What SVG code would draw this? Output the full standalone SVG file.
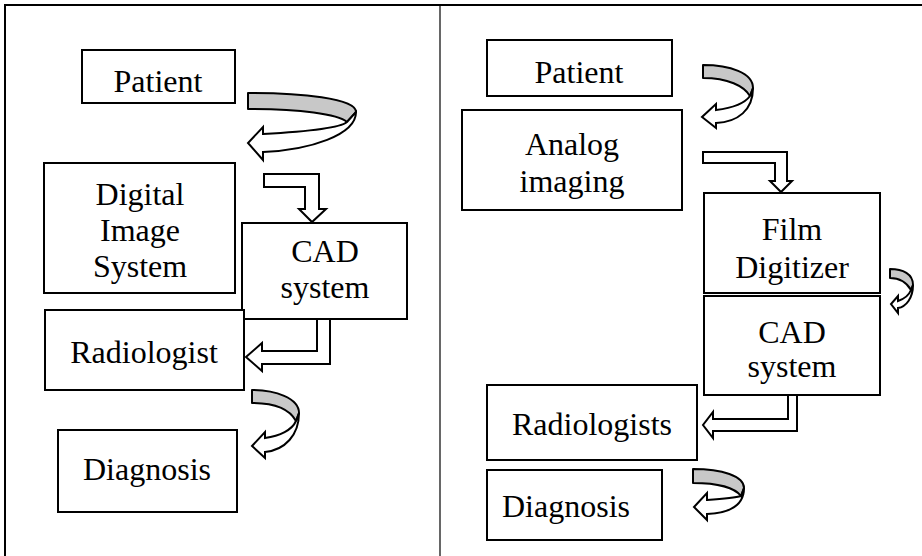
<svg xmlns="http://www.w3.org/2000/svg" width="922" height="556" viewBox="0 0 922 556">
<style>
.box{fill:#fff;stroke:#000;stroke-width:2}
.t{font-family:"Liberation Serif","Times New Roman",serif;font-size:32px;fill:#000;text-anchor:middle}
.sh{fill:#c8c8c8;stroke:#000;stroke-width:2;stroke-linejoin:round}
.wh{fill:#fff;stroke:#000;stroke-width:2;stroke-linejoin:miter}
</style>
<rect x="0" y="0" width="922" height="556" fill="#fff"/>
<rect x="5" y="5" width="925" height="560" fill="none" stroke="#000" stroke-width="2"/>
<line x1="440" y1="5" x2="440" y2="556" stroke="#000" stroke-width="1.2"/>

<g id="l-patient"><rect class="box" x="82" y="50" width="153" height="53"/><text class="t" x="158" y="92">Patient</text></g>
<g id="l-dis"><rect class="box" x="44" y="163" width="191" height="130"/><text class="t" x="140" y="205">Digital</text><text class="t" x="140" y="241">Image</text><text class="t" x="140" y="277">System</text></g>
<g id="l-cad"><rect class="box" x="242" y="223" width="165" height="96"/><text class="t" x="325" y="262">CAD</text><text class="t" x="325" y="298">system</text></g>
<g id="l-radiologist"><rect class="box" x="45" y="310" width="199" height="80"/><text class="t" x="144" y="363">Radiologist</text></g>
<g id="l-diagnosis"><rect class="box" x="58" y="430" width="179" height="82"/><text class="t" x="147" y="480">Diagnosis</text></g>

<g id="r-patient"><rect class="box" x="487" y="40" width="185" height="56"/><text class="t" x="579" y="83">Patient</text></g>
<g id="r-analog"><rect class="box" x="462" y="110" width="220" height="100"/><text class="t" x="572" y="155">Analog</text><text class="t" x="572" y="192">imaging</text></g>
<g id="r-film"><rect class="box" x="704" y="193" width="176" height="100"/><text class="t" x="792" y="240">Film</text><text class="t" x="792" y="278">Digitizer</text></g>
<g id="r-cad"><rect class="box" x="704" y="296" width="176" height="99"/><text class="t" x="792" y="343">CAD</text><text class="t" x="792" y="377">system</text></g>
<g id="r-radiologists"><rect class="box" x="487" y="385" width="210" height="75"/><text class="t" x="592" y="435">Radiologists</text></g>
<g id="r-diagnosis"><rect class="box" x="487" y="470" width="175" height="70"/><text class="t" x="566" y="517">Diagnosis</text></g>

<g id="connectors">
<path class="sh" d="M248,93 C300,93 356,98 356,112 L347,122 C338,114 300,109 248,109 Z"/>
<path class="wh" d="M356,112 C356,135 310,150 263,152 L263,160 L248,143 L263,127 L263,134 C300,132 340,128 347,122 Z"/>
<path class="sh" d="M252,390 C275,390 299,398 299,413 L296,421 C290,410 275,403 252,403 Z"/>
<path class="wh" d="M299,413 C299,435 285,450 265,452 L265,458 L252,446 L265,432 L265,438 C280,436 292,430 296,421 Z"/>
<path class="sh" d="M703,65 C730,65 753,73 753,88 L750,96 C744,86 728,78 703,78 Z"/>
<path class="wh" d="M753,88 C753,110 738,122 716,123 L716,128 L702,117 L716,104 L716,110 C732,108 745,103 750,96 Z"/>
<path class="sh" d="M890,269 C903,269 913,274 913,285 L911,290 C907,283 900,278 890,278 Z"/>
<path class="wh" d="M913,285 C913,298 906,307 898,308 L898,313 L891,304 L898,296 L898,301 C904,299 909,295 911,290 Z"/>
<path class="sh" d="M693,469 C722,469 744,476 744,488 L741,496 C735,488 718,483 693,483 Z"/>
<path class="wh" d="M744,488 C744,505 730,513 707,514 L707,520 L694,507 L707,493 L707,500 C722,499 735,498 741,496 Z"/>
<path class="wh" d="M264,174 L319,174 L319,209 L326,209 L312,222 L299,209 L305,209 L305,187 L264,187 Z"/>
<path class="wh" d="M317,319 L330,319 L330,364 L262,364 L262,371 L246,357 L262,343 L262,351 L317,351 Z"/>
<path class="wh" d="M703,152 L787,152 L787,181 L792,181 L781,192 L770,181 L775,181 L775,163 L703,163 Z"/>
<path class="wh" d="M788,395 L797,395 L797,431 L713,431 L713,438 L703,425 L713,412 L713,419 L788,419 Z"/>
</g>
</svg>
